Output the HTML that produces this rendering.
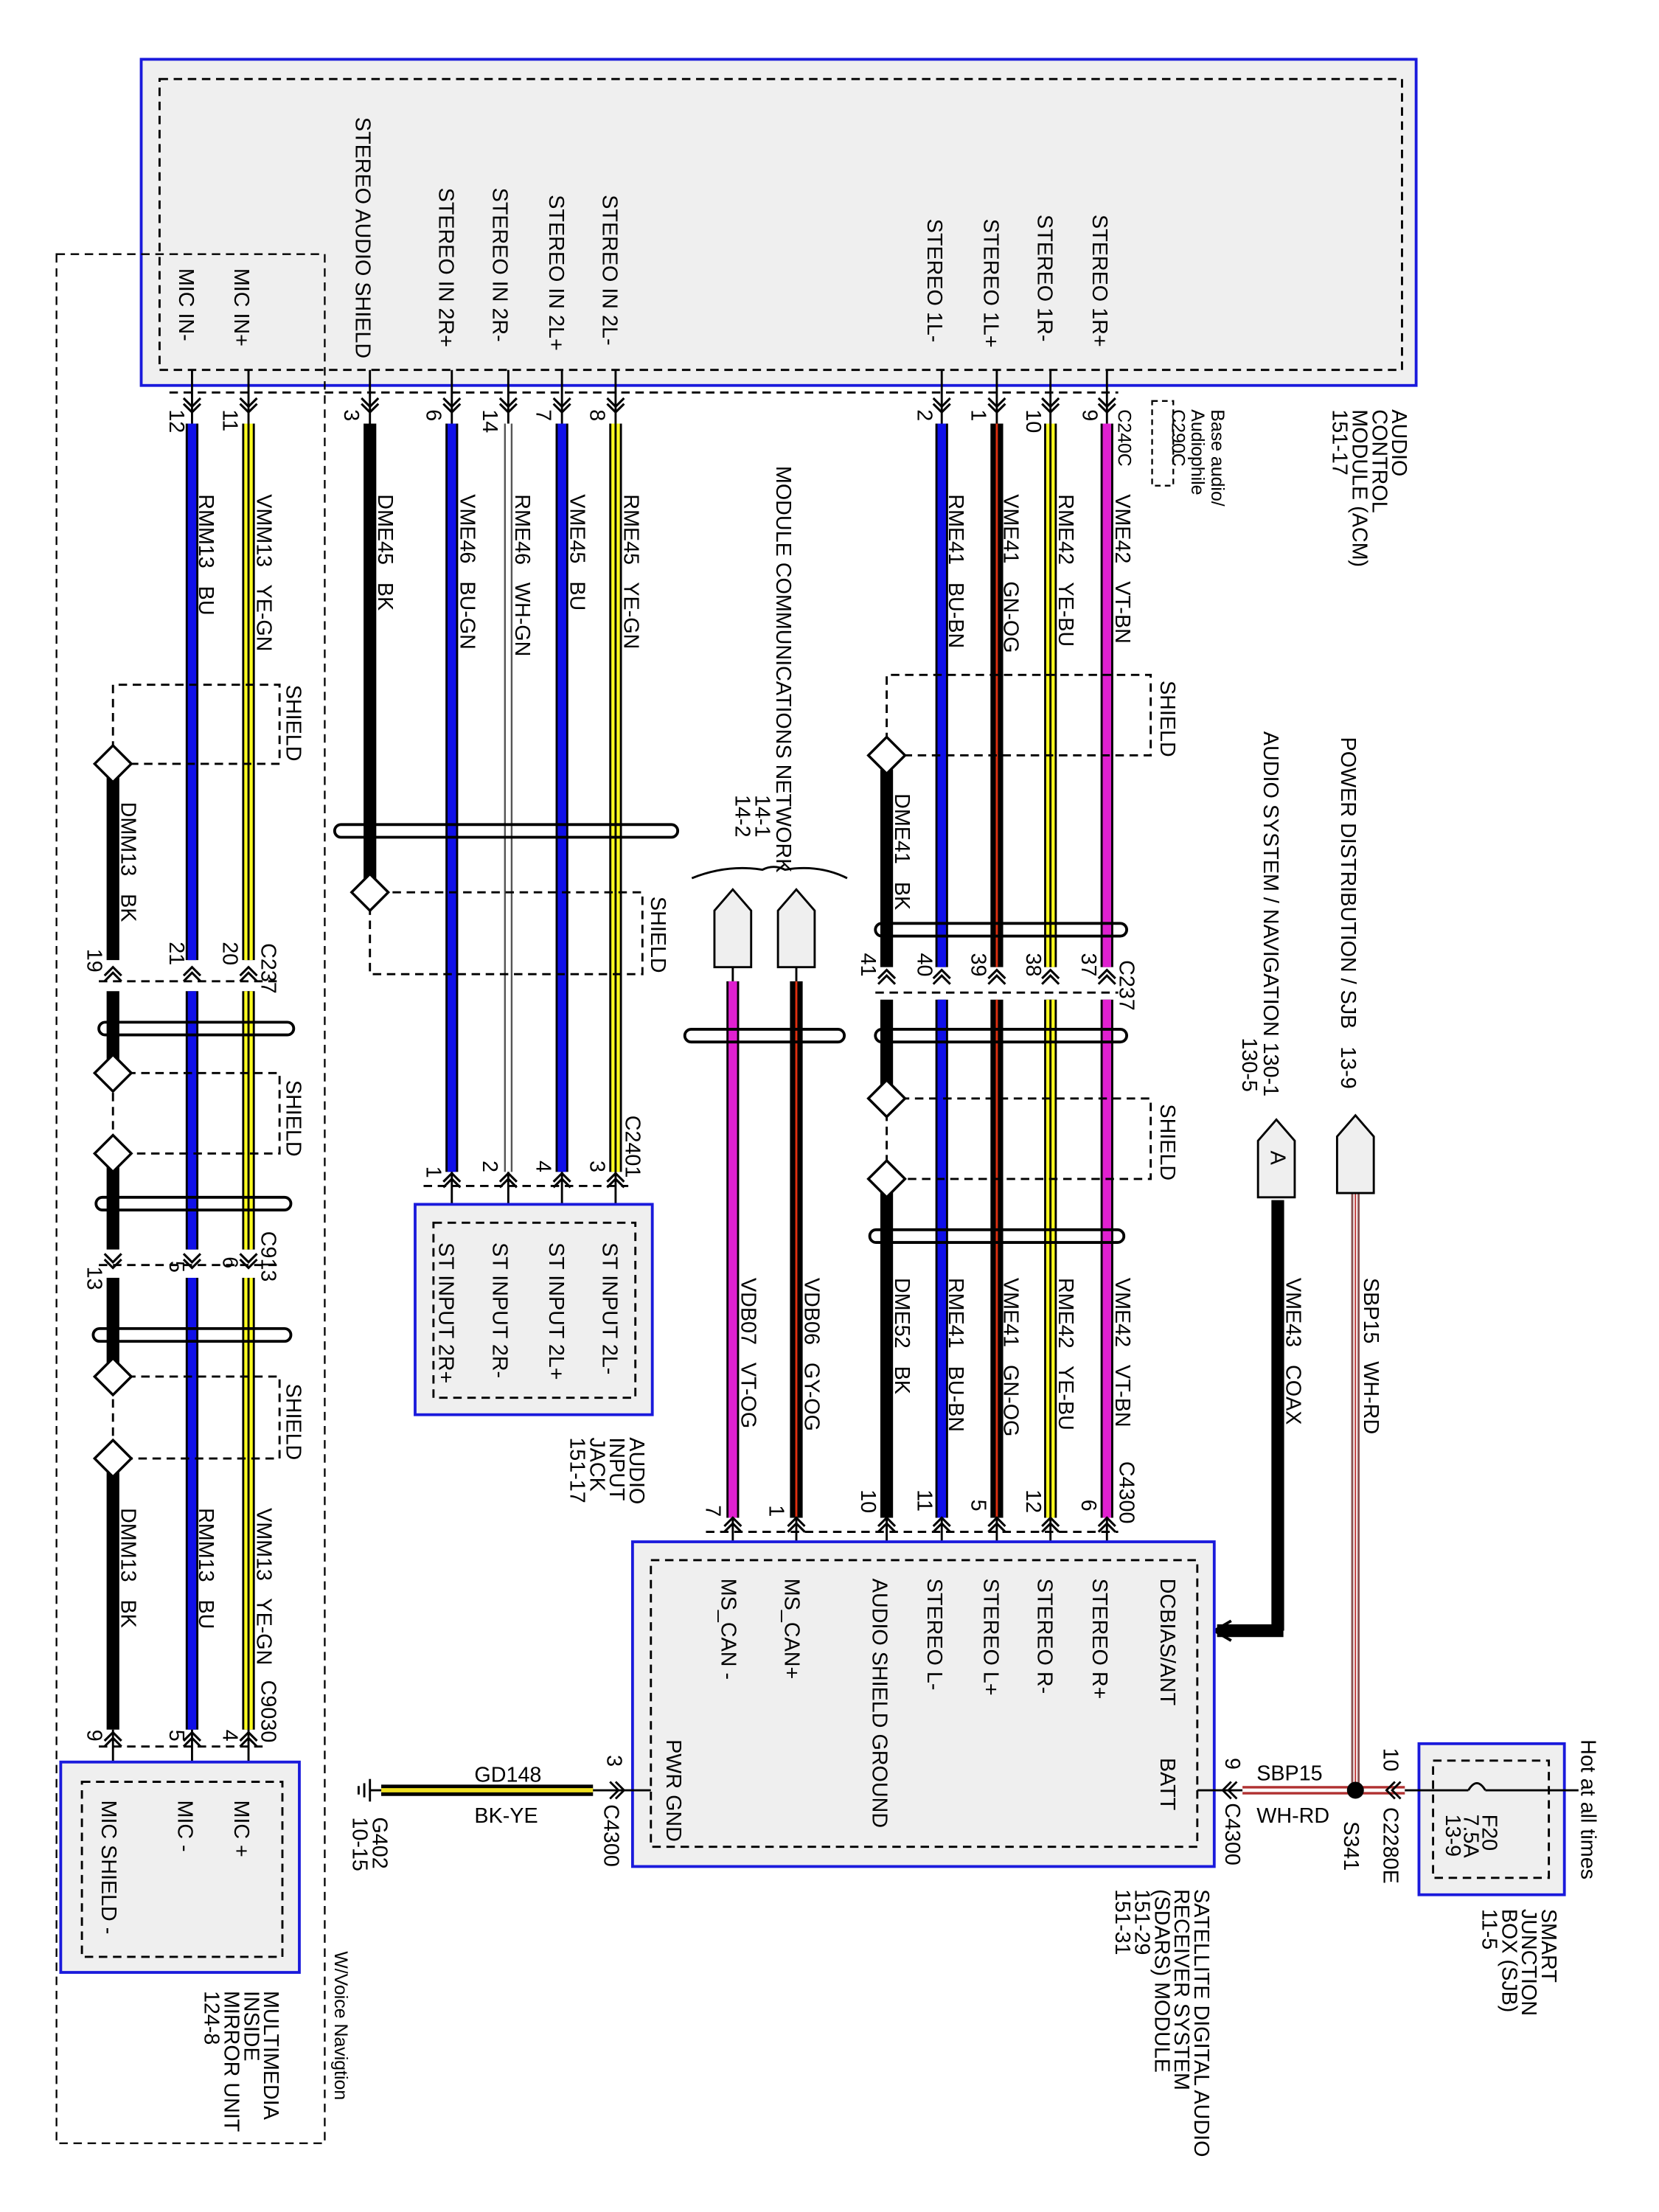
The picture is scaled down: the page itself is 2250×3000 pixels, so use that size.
<!DOCTYPE html>
<html><head><meta charset="utf-8"><style>
html,body{margin:0;padding:0;background:#fff}
svg{display:block}
text{font-family:"Liberation Sans Narrow","Liberation Sans",sans-serif;font-size:15px;fill:#000}
.s{font-size:13px}
</style></head><body>
<svg width="2250" height="3000" viewBox="0 0 1175 1566.7" xmlns="http://www.w3.org/2000/svg">
<defs>
<g id="cd"><path d="M-6,-5 L0,1 L6,-5 M-6,-1 L0,5 L6,-1" fill="none" stroke="#000" stroke-width="1.6"/></g>
<g id="cu"><path d="M-6,5 L0,-1 L6,5 M-6,1 L0,-5 L6,1" fill="none" stroke="#000" stroke-width="1.6"/></g>
</defs>
<rect x="100" y="42" width="903" height="231" fill="#efefef" stroke="#1a1adc" stroke-width="2"/>
<rect x="113" y="56" width="880" height="206" fill="none" stroke="#000" stroke-width="1.5" stroke-dasharray="6,4"/>
<rect x="40" y="180" width="190" height="1338" fill="none" stroke="#000" stroke-width="1.2" stroke-dasharray="6,4"/>
<line x1="120" y1="278" x2="792" y2="278" stroke="#000" stroke-width="1.5" stroke-dasharray="6,4"/>

<g stroke-linecap="butt">
<g stroke="#000" stroke-width="1.5">
<line x1="136" y1="262" x2="136" y2="300"/><line x1="176" y1="262" x2="176" y2="300"/>
<line x1="262" y1="262" x2="262" y2="300"/><line x1="320" y1="262" x2="320" y2="300"/>
<line x1="360" y1="262" x2="360" y2="300"/><line x1="398" y1="262" x2="398" y2="300"/>
<line x1="436" y1="262" x2="436" y2="300"/><line x1="667" y1="262" x2="667" y2="300"/>
<line x1="706" y1="262" x2="706" y2="300"/><line x1="744" y1="262" x2="744" y2="300"/>
<line x1="784" y1="262" x2="784" y2="300"/>
</g>
<g stroke="#000" stroke-width="9">
<line x1="136" y1="300" x2="136" y2="680"/><line x1="136" y1="702" x2="136" y2="885"/><line x1="136" y1="905" x2="136" y2="1225"/>
<line x1="176" y1="300" x2="176" y2="680"/><line x1="176" y1="702" x2="176" y2="885"/><line x1="176" y1="905" x2="176" y2="1225"/>
<line x1="80" y1="545" x2="80" y2="680"/><line x1="80" y1="702" x2="80" y2="755"/><line x1="80" y1="822" x2="80" y2="885"/><line x1="80" y1="905" x2="80" y2="970"/><line x1="80" y1="1040" x2="80" y2="1225"/>
<line x1="262" y1="300" x2="262" y2="625"/>
<line x1="320" y1="300" x2="320" y2="830"/><line x1="398" y1="300" x2="398" y2="830"/><line x1="436" y1="300" x2="436" y2="830"/>
<line x1="667" y1="300" x2="667" y2="685"/><line x1="667" y1="708" x2="667" y2="1075"/>
<line x1="706" y1="300" x2="706" y2="685"/><line x1="706" y1="708" x2="706" y2="1075"/>
<line x1="744" y1="300" x2="744" y2="685"/><line x1="744" y1="708" x2="744" y2="1075"/>
<line x1="784" y1="300" x2="784" y2="685"/><line x1="784" y1="708" x2="784" y2="1075"/>
<line x1="628" y1="545" x2="628" y2="685"/><line x1="628" y1="708" x2="628" y2="772"/><line x1="628" y1="842" x2="628" y2="1075"/>
<line x1="519" y1="695" x2="519" y2="1075"/><line x1="564" y1="695" x2="564" y2="1075"/>
<line x1="905" y1="850" x2="905" y2="1155"/><line x1="909" y1="1155" x2="862" y2="1155"/>
</g>
<g stroke-width="6">
<g stroke="#1010e8"><line x1="136" y1="300" x2="136" y2="680"/><line x1="136" y1="702" x2="136" y2="885"/><line x1="136" y1="905" x2="136" y2="1225"/>
<line x1="320" y1="300" x2="320" y2="830"/><line x1="398" y1="300" x2="398" y2="830"/>
<line x1="667" y1="300" x2="667" y2="685"/><line x1="667" y1="708" x2="667" y2="1075"/></g>
<g stroke="#ffff20"><line x1="176" y1="300" x2="176" y2="680"/><line x1="176" y1="702" x2="176" y2="885"/><line x1="176" y1="905" x2="176" y2="1225"/>
<line x1="436" y1="300" x2="436" y2="830"/>
<line x1="744" y1="300" x2="744" y2="685"/><line x1="744" y1="708" x2="744" y2="1075"/></g>
<g stroke="#e020d0"><line x1="784" y1="300" x2="784" y2="685"/><line x1="784" y1="708" x2="784" y2="1075"/><line x1="519" y1="695" x2="519" y2="1075"/></g>
</g>
<g stroke="#000" stroke-width="1.5"><line x1="176" y1="300" x2="176" y2="680"/><line x1="176" y1="702" x2="176" y2="885"/><line x1="176" y1="905" x2="176" y2="1225"/><line x1="436" y1="300" x2="436" y2="830"/><line x1="744" y1="300" x2="744" y2="685"/><line x1="744" y1="708" x2="744" y2="1075"/></g>
<g stroke="#e03010" stroke-width="1.5"><line x1="564" y1="695" x2="564" y2="1075"/><line x1="706" y1="300" x2="706" y2="685"/><line x1="706" y1="708" x2="706" y2="1075"/></g>
<line x1="360" y1="300" x2="360" y2="830" stroke="#555" stroke-width="6"/>
<line x1="360" y1="300" x2="360" y2="830" stroke="#fff" stroke-width="3.5"/>
<line x1="960" y1="845" x2="960" y2="1268" stroke="#8a5050" stroke-width="6"/>
<line x1="960" y1="845" x2="960" y2="1268" stroke="#fff" stroke-width="3"/>
<line x1="960" y1="845" x2="960" y2="1268" stroke="#c03030" stroke-width="1"/>
</g>

<g>
<use href="#cd" x="136" y="287"/><use href="#cd" x="176" y="287"/><use href="#cd" x="262" y="287"/>
<use href="#cd" x="320" y="287"/><use href="#cd" x="360" y="287"/><use href="#cd" x="398" y="287"/><use href="#cd" x="436" y="287"/>
<use href="#cd" x="667" y="287"/><use href="#cd" x="706" y="287"/><use href="#cd" x="744" y="287"/><use href="#cd" x="784" y="287"/>
</g>
<g font-size="13">
<text transform="translate(120,290) rotate(90)">12</text><text transform="translate(158,290) rotate(90)">11</text>
<text transform="translate(244,290) rotate(90)">3</text><text transform="translate(302,290) rotate(90)">6</text>
<text transform="translate(342,290) rotate(90)">14</text><text transform="translate(380,290) rotate(90)">7</text>
<text transform="translate(418,290) rotate(90)">8</text><text transform="translate(650,290) rotate(90)">2</text>
<text transform="translate(688,290) rotate(90)">1</text><text transform="translate(727,290) rotate(90)">10</text>
<text transform="translate(767,290) rotate(90)">9</text>
</g>

<g>
<text transform="translate(774,152) rotate(90)">STEREO 1R+</text>
<text transform="translate(735,152) rotate(90)">STEREO 1R-</text>
<text transform="translate(697,155) rotate(90)">STEREO 1L+</text>
<text transform="translate(657,155) rotate(90)">STEREO 1L-</text>
<text transform="translate(427,138) rotate(90)">STEREO IN 2L-</text>
<text transform="translate(389,138) rotate(90)">STEREO IN 2L+</text>
<text transform="translate(349,133) rotate(90)">STEREO IN 2R-</text>
<text transform="translate(311,133) rotate(90)">STEREO IN 2R+</text>
<text transform="translate(252,83) rotate(90)">STEREO AUDIO SHIELD</text>
<text transform="translate(166,190) rotate(90)">MIC IN+</text>
<text transform="translate(127,190) rotate(90)">MIC IN-</text>
<text transform="translate(986,290) rotate(90)">AUDIO</text>
<text transform="translate(972,290) rotate(90)">CONTROL</text>
<text transform="translate(958,290) rotate(90)">MODULE (ACM)</text>
<text transform="translate(944,290) rotate(90)">151-17</text>
<text class="s" transform="translate(858,290) rotate(90)">Base audio/</text>
<text class="s" transform="translate(844,290) rotate(90)">Audiophile</text>
<text class="s" transform="translate(830,290) rotate(90)">C290C</text>
<rect x="816" y="284" width="15" height="60" fill="none" stroke="#000" stroke-width="1.2" stroke-dasharray="4,3"/>
<text class="s" transform="translate(792,290) rotate(90)">C240C</text>
</g>

<g>
<text transform="translate(182,350) rotate(90)" xml:space="preserve">VMM13   YE-GN</text>
<text transform="translate(141,350) rotate(90)" xml:space="preserve">RMM13   BU</text>
<text transform="translate(268,350) rotate(90)" xml:space="preserve">DME45   BK</text>
<text transform="translate(326,350) rotate(90)" xml:space="preserve">VME46   BU-GN</text>
<text transform="translate(365,350) rotate(90)" xml:space="preserve">RME46   WH-GN</text>
<text transform="translate(404,350) rotate(90)" xml:space="preserve">VME45   BU</text>
<text transform="translate(442,350) rotate(90)" xml:space="preserve">RME45   YE-GN</text>
<text transform="translate(672,350) rotate(90)" xml:space="preserve">RME41   BU-BN</text>
<text transform="translate(711,350) rotate(90)" xml:space="preserve">VME41   GN-OG</text>
<text transform="translate(750,350) rotate(90)" xml:space="preserve">RME42   YE-BU</text>
<text transform="translate(790,350) rotate(90)" xml:space="preserve">VME42   VT-BN</text>
<text transform="translate(634,562) rotate(90)" xml:space="preserve">DME41   BK</text>
<text transform="translate(86,568) rotate(90)" xml:space="preserve">DMM13   BK</text>
<text transform="translate(86,1068) rotate(90)" xml:space="preserve">DMM13   BK</text>
<text transform="translate(141,1068) rotate(90)" xml:space="preserve">RMM13   BU</text>
<text transform="translate(182,1068) rotate(90)" xml:space="preserve">VMM13   YE-GN</text>
<text transform="translate(634,905) rotate(90)" xml:space="preserve">DME52   BK</text>
<text transform="translate(672,905) rotate(90)" xml:space="preserve">RME41   BU-BN</text>
<text transform="translate(711,905) rotate(90)" xml:space="preserve">VME41   GN-OG</text>
<text transform="translate(750,905) rotate(90)" xml:space="preserve">RME42   YE-BU</text>
<text transform="translate(790,905) rotate(90)" xml:space="preserve">VME42   VT-BN</text>
<text transform="translate(525,905) rotate(90)" xml:space="preserve">VDB07   VT-OG</text>
<text transform="translate(570,905) rotate(90)" xml:space="preserve">VDB06   GY-OG</text>
<text transform="translate(911,905) rotate(90)" xml:space="preserve">VME43   COAX</text>
<text transform="translate(966,905) rotate(90)" xml:space="preserve">SBP15   WH-RD</text>
</g>

<g fill="none" stroke="#000" stroke-width="1.5" stroke-dasharray="6,4">
<path d="M628,535 V478 H815 V535 H628"/>
<path d="M628,778 H815 V835 H628"/>
<line x1="628" y1="778" x2="628" y2="835"/>
<path d="M80,541 V485 H198 V541 H80"/>
<path d="M80,760 H198 V817 H80 Z"/>
<path d="M80,975 H198 V1033 H80 Z"/>
<path d="M262,632 V690 H455 V632 H262"/>
<line x1="620" y1="703" x2="792" y2="703"/>
<line x1="70" y1="695" x2="200" y2="695"/>
<line x1="70" y1="896" x2="200" y2="896"/>
<line x1="500" y1="1085" x2="792" y2="1085"/>
<line x1="300" y1="840" x2="445" y2="840"/>
<line x1="70" y1="1237" x2="190" y2="1237"/>
</g>
<g fill="#fff" stroke="#000" stroke-width="1.8">
<path d="M628,522 L641,535 L628,548 L615,535 Z"/>
<path d="M628,765 L641,778 L628,791 L615,778 Z"/>
<path d="M628,822 L641,835 L628,848 L615,835 Z"/>
<path d="M80,528 L93,541 L80,554 L67,541 Z"/>
<path d="M80,747 L93,760 L80,773 L67,760 Z"/>
<path d="M80,804 L93,817 L80,830 L67,817 Z"/>
<path d="M80,962 L93,975 L80,988 L67,975 Z"/>
<path d="M80,1020 L93,1033 L80,1046 L67,1033 Z"/>
<path d="M262,619 L275,632 L262,645 L249,632 Z"/>
</g>
<g>
<text transform="translate(822,482) rotate(90)">SHIELD</text>
<text transform="translate(822,782) rotate(90)">SHIELD</text>
<text transform="translate(203,485) rotate(90)">SHIELD</text>
<text transform="translate(203,765) rotate(90)">SHIELD</text>
<text transform="translate(203,980) rotate(90)">SHIELD</text>
<text transform="translate(461,635) rotate(90)">SHIELD</text>
</g>
<g fill="none" stroke="#000" stroke-width="2">
<rect x="620" y="654" width="178" height="9" rx="4.5"/>
<rect x="620" y="729" width="178" height="9" rx="4.5"/>
<rect x="616" y="871" width="180" height="9" rx="4.5"/>
<rect x="70" y="724" width="138" height="9" rx="4.5"/>
<rect x="68" y="848" width="138" height="9" rx="4.5"/>
<rect x="66" y="941" width="140" height="9" rx="4.5"/>
<rect x="237" y="584" width="243" height="9" rx="4.5"/>
<rect x="485" y="729" width="113" height="9" rx="4.5"/>
</g>

<g>
<use href="#cu" x="628" y="692"/><use href="#cu" x="667" y="692"/><use href="#cu" x="706" y="692"/><use href="#cu" x="744" y="692"/><use href="#cu" x="784" y="692"/>
<use href="#cu" x="80" y="690"/><use href="#cu" x="136" y="690"/><use href="#cu" x="176" y="690"/>
<use href="#cd" x="80" y="893"/><use href="#cd" x="136" y="893"/><use href="#cd" x="176" y="893"/>
<use href="#cu" x="80" y="1232"/><use href="#cu" x="136" y="1232"/><use href="#cu" x="176" y="1232"/>
<use href="#cu" x="320" y="836"/><use href="#cu" x="360" y="836"/><use href="#cu" x="398" y="836"/><use href="#cu" x="436" y="836"/>
<use href="#cu" x="628" y="1080"/><use href="#cu" x="667" y="1080"/><use href="#cu" x="706" y="1080"/><use href="#cu" x="744" y="1080"/><use href="#cu" x="784" y="1080"/>
<use href="#cu" x="519" y="1080"/><use href="#cu" x="564" y="1080"/>
</g>
<g stroke="#000" stroke-width="1.5">
<line x1="628" y1="1075" x2="628" y2="1105"/><line x1="667" y1="1075" x2="667" y2="1105"/><line x1="706" y1="1075" x2="706" y2="1105"/><line x1="744" y1="1075" x2="744" y2="1105"/><line x1="784" y1="1075" x2="784" y2="1105"/><line x1="519" y1="1075" x2="519" y2="1105"/><line x1="564" y1="1075" x2="564" y2="1105"/>
<line x1="320" y1="830" x2="320" y2="866"/><line x1="360" y1="830" x2="360" y2="866"/><line x1="398" y1="830" x2="398" y2="866"/><line x1="436" y1="830" x2="436" y2="866"/>
<line x1="80" y1="1225" x2="80" y2="1262"/><line x1="136" y1="1225" x2="136" y2="1262"/><line x1="176" y1="1225" x2="176" y2="1262"/>
</g>
<g font-size="13">
<text transform="translate(610,675) rotate(90)">41</text><text transform="translate(650,675) rotate(90)">40</text><text transform="translate(688,675) rotate(90)">39</text><text transform="translate(727,675) rotate(90)">38</text><text transform="translate(766,675) rotate(90)">37</text>
<text transform="translate(793,680) rotate(90)">C237</text>
<text transform="translate(62,672) rotate(90)">19</text><text transform="translate(120,667) rotate(90)">21</text><text transform="translate(158,667) rotate(90)">20</text>
<text transform="translate(185,668) rotate(90)">C237</text>
<text transform="translate(62,897) rotate(90)">13</text><text transform="translate(120,893) rotate(90)">5</text><text transform="translate(158,890) rotate(90)">6</text>
<text transform="translate(185,872) rotate(90)">C913</text>
<text transform="translate(62,1225) rotate(90)">9</text><text transform="translate(120,1225) rotate(90)">5</text><text transform="translate(158,1225) rotate(90)">4</text>
<text transform="translate(185,1190) rotate(90)">C9030</text>
<text transform="translate(302,826) rotate(90)">1</text><text transform="translate(342,822) rotate(90)">2</text><text transform="translate(380,822) rotate(90)">4</text><text transform="translate(418,822) rotate(90)">3</text>
<text transform="translate(443,790) rotate(90)">C2401</text>
<text transform="translate(610,1055) rotate(90)">10</text><text transform="translate(650,1055) rotate(90)">11</text><text transform="translate(688,1062) rotate(90)">5</text><text transform="translate(727,1055) rotate(90)">12</text><text transform="translate(766,1062) rotate(90)">6</text>
<text transform="translate(500,1066) rotate(90)">7</text><text transform="translate(545,1066) rotate(90)">1</text>
<text transform="translate(793,1035) rotate(90)">C4300</text>
</g>

<rect x="43" y="1248" width="169" height="149" fill="#efefef" stroke="#1a1adc" stroke-width="2"/>
<rect x="58" y="1262" width="142" height="124" fill="none" stroke="#000" stroke-width="1.5" stroke-dasharray="6,4"/>
<text transform="translate(166,1275) rotate(90)">MIC +</text>
<text transform="translate(126,1275) rotate(90)">MIC -</text>
<text transform="translate(72,1275) rotate(90)">MIC SHIELD -</text>
<text transform="translate(187,1410) rotate(90)">MULTIMEDIA</text>
<text transform="translate(173,1410) rotate(90)">INSIDE</text>
<text transform="translate(159,1410) rotate(90)">MIRROR UNIT</text>
<text transform="translate(145,1410) rotate(90)">124-8</text>
<text class="s" transform="translate(237,1382) rotate(90)">W/Voice Navigtion</text>

<rect x="294" y="853" width="168" height="149" fill="#efefef" stroke="#1a1adc" stroke-width="2"/>
<rect x="307" y="866" width="143" height="124" fill="none" stroke="#000" stroke-width="1.5" stroke-dasharray="6,4"/>
<text transform="translate(427,880) rotate(90)">ST INPUT 2L-</text>
<text transform="translate(389,880) rotate(90)">ST INPUT 2L+</text>
<text transform="translate(349,880) rotate(90)">ST INPUT 2R-</text>
<text transform="translate(311,880) rotate(90)">ST INPUT 2R+</text>
<text transform="translate(446,1018) rotate(90)">AUDIO</text>
<text transform="translate(432,1018) rotate(90)">INPUT</text>
<text transform="translate(418,1018) rotate(90)">JACK</text>
<text transform="translate(404,1018) rotate(90)">151-17</text>

<text transform="translate(550,330) rotate(90)">MODULE COMMUNICATIONS NETWORK</text>
<text transform="translate(535,563) rotate(90)">14-1</text>
<text transform="translate(521,563) rotate(90)">14-2</text>
<path d="M490,622 Q515,612 540,616 Q548,612 556,616 Q580,612 600,622" fill="none" stroke="#000" stroke-width="1.5"/>
<path d="M506,685 V645 L519,630 L532,645 V685 Z" fill="#efefef" stroke="#000" stroke-width="1.5"/>
<path d="M551,685 V645 L564,630 L577,645 V685 Z" fill="#efefef" stroke="#000" stroke-width="1.5"/>
<line x1="519" y1="685" x2="519" y2="695" stroke="#000" stroke-width="1.5"/>
<line x1="564" y1="685" x2="564" y2="695" stroke="#000" stroke-width="1.5"/>

<text transform="translate(950,522) rotate(90)" xml:space="preserve">POWER DISTRIBUTION / SJB   13-9</text>
<text transform="translate(895,518) rotate(90)">AUDIO SYSTEM / NAVIGATION 130-1</text>
<text transform="translate(880,735) rotate(90)">130-5</text>
<path d="M891,848 V808 L904,793 L917,808 V848 Z" fill="#efefef" stroke="#000" stroke-width="1.5"/>
<text transform="translate(900,815) rotate(90)">A</text>
<path d="M947,845 V805 L960,790 L973,805 V845 Z" fill="#efefef" stroke="#000" stroke-width="1.5"/>
<path d="M872,1148 L860,1155 L872,1162" fill="none" stroke="#000" stroke-width="2"/>

<rect x="448" y="1092" width="412" height="230" fill="#efefef" stroke="#1a1adc" stroke-width="2"/>
<rect x="461" y="1105" width="387" height="203" fill="none" stroke="#000" stroke-width="1.5" stroke-dasharray="6,4"/>
<text transform="translate(822,1118) rotate(90)">DCBIAS/ANT</text>
<text transform="translate(774,1118) rotate(90)">STEREO R+</text>
<text transform="translate(735,1118) rotate(90)">STEREO R-</text>
<text transform="translate(697,1118) rotate(90)">STEREO L+</text>
<text transform="translate(657,1118) rotate(90)">STEREO L-</text>
<text transform="translate(618,1118) rotate(90)">AUDIO SHIELD GROUND</text>
<text transform="translate(556,1118) rotate(90)">MS_CAN+</text>
<text transform="translate(511,1118) rotate(90)">MS_CAN -</text>
<text transform="translate(822,1245) rotate(90)">BATT</text>
<text transform="translate(472,1232) rotate(90)">PWR GND</text>
<text transform="translate(846,1338) rotate(90)">SATELLITE DIGITAL AUDIO</text>
<text transform="translate(832,1338) rotate(90)">RECEIVER SYSTEM</text>
<text transform="translate(818,1338) rotate(90)">(SDARS) MODULE</text>
<text transform="translate(804,1338) rotate(90)">151-29</text>
<text transform="translate(790,1338) rotate(90)">151-31</text>

<line x1="270" y1="1268" x2="420" y2="1268" stroke="#000" stroke-width="8"/>
<line x1="270" y1="1268" x2="420" y2="1268" stroke="#f0e020" stroke-width="3"/>
<line x1="420" y1="1268" x2="461" y2="1268" stroke="#000" stroke-width="1.5"/>
<path d="M436,1262 L442,1268 L436,1274 M432,1262 L438,1268 L432,1274" fill="none" stroke="#000" stroke-width="1.5"/>
<g stroke="#000" stroke-width="1.5"><line x1="262" y1="1260" x2="262" y2="1276"/><line x1="258" y1="1263" x2="258" y2="1273"/><line x1="254" y1="1265" x2="254" y2="1271"/><line x1="262" y1="1268" x2="270" y2="1268"/></g>
<text x="336" y="1262">GD148</text>
<text x="336" y="1291">BK-YE</text>
<text font-size="13" transform="translate(430,1243) rotate(90)">3</text>
<text font-size="13" transform="translate(428,1278) rotate(90)">C4300</text>
<text font-size="13" transform="translate(264,1287) rotate(90)">G402</text>
<text font-size="13" transform="translate(250,1287) rotate(90)">10-15</text>

<line x1="848" y1="1268" x2="880" y2="1268" stroke="#000" stroke-width="1.5"/>
<line x1="880" y1="1268" x2="960" y2="1268" stroke="#b03030" stroke-width="6"/>
<line x1="880" y1="1268" x2="960" y2="1268" stroke="#fff" stroke-width="2.5"/>
<line x1="960" y1="1268" x2="995" y2="1268" stroke="#b03030" stroke-width="6"/>
<line x1="960" y1="1268" x2="995" y2="1268" stroke="#fff" stroke-width="2.5"/>
<path d="M872,1262 L866,1268 L872,1274 M876,1262 L870,1268 L876,1274" fill="none" stroke="#000" stroke-width="1.5"/>
<path d="M988,1262 L982,1268 L988,1274 M992,1262 L986,1268 L992,1274" fill="none" stroke="#000" stroke-width="1.5"/>
<circle cx="960" cy="1268" r="6" fill="#000"/>
<text x="890" y="1261">SBP15</text>
<text x="890" y="1291">WH-RD</text>
<text font-size="13" transform="translate(868,1245) rotate(90)">9</text>
<text font-size="13" transform="translate(868,1277) rotate(90)">C4300</text>
<text font-size="13" transform="translate(952,1290) rotate(90)">S341</text>
<text font-size="13" transform="translate(980,1238) rotate(90)">10</text>
<text font-size="13" transform="translate(980,1280) rotate(90)">C2280E</text>
<rect x="1005" y="1235" width="103" height="107" fill="#efefef" stroke="#1a1adc" stroke-width="2"/>
<rect x="1015" y="1247" width="82" height="83" fill="none" stroke="#000" stroke-width="1.5" stroke-dasharray="6,4"/>
<line x1="995" y1="1268" x2="1118" y2="1268" stroke="#000" stroke-width="1.5"/>
<rect x="1040" y="1262" width="12" height="10" fill="#efefef"/>
<path d="M1040,1268 Q1046,1258 1052,1268" fill="none" stroke="#000" stroke-width="1.5"/>
<text font-size="13" transform="translate(1050,1285) rotate(90)">F20</text>
<text font-size="13" transform="translate(1037,1285) rotate(90)">7.5A</text>
<text font-size="13" transform="translate(1024,1285) rotate(90)">13-9</text>
<text font-size="13" transform="translate(1120,1232) rotate(90)">Hot at all times</text>
<text transform="translate(1092,1352) rotate(90)">SMART</text>
<text transform="translate(1078,1352) rotate(90)">JUNCTION</text>
<text transform="translate(1064,1352) rotate(90)">BOX (SJB)</text>
<text transform="translate(1050,1352) rotate(90)">11-5</text>
</svg>
</body></html>
